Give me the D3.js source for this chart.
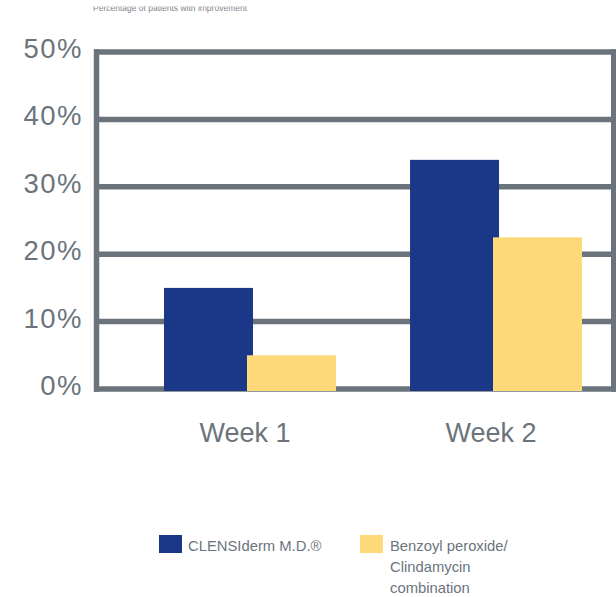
<!DOCTYPE html>
<html>
<head>
<meta charset="utf-8">
<script src="https://cdn.jsdelivr.net/npm/d3@7"></script>
<style>
  html, body { margin: 0; padding: 0; background: #fff; }
  svg { display: block; }
  text { font-family: "Liberation Sans", Arial, Helvetica, sans-serif; }
</style>
</head>
<body>
<svg id="chart" width="616" height="597"></svg>
<script>
// ---- data ----
const categories = ["Week 1", "Week 2"];
const seriesNames = ["CLENSIderm M.D.®", "Benzoyl peroxide/ Clindamycin combination"];
const clensiderm = [0.15, 0.34];
const bpoClinda = [0.05, 0.225];
const yTicks = [0, 0.1, 0.2, 0.3, 0.4, 0.5];
const tickLabels = ["0%", "10%", "20%", "30%", "40%", "50%"];
const subtitle = "Percentage of patients with improvement";
const legendLines = [["CLENSIderm M.D.®"], ["Benzoyl peroxide/", "Clindamycin", "combination"]];

// ---- styles ----
const gray = "#6b747d";
const colors = ["#1a3887", "#fdd97a"];

const svg = d3.select("#chart");

const y = d3.scaleLinear().domain([0, 0.5]).range([389, 52]);
const x0 = d3.scaleBand().domain(categories).range([164, 582]).paddingInner(0.301).paddingOuter(0);
const x1 = d3.scaleBand().domain([0, 1]).range([0, x0.bandwidth()]);

// subtitle (cut off at top in the source)
svg.append("defs").append("clipPath").attr("id", "subclip")
  .append("rect").attr("x", 0).attr("y", 6.5).attr("width", 616).attr("height", 10);
svg.append("text").attr("x", 93).attr("y", 11)
  .attr("clip-path", "url(#subclip)")
  .attr("font-size", 8.5).attr("fill", "#7f868d").text(subtitle);

// gridlines
svg.append("g").selectAll("line").data(yTicks).join("line")
  .attr("x1", 94).attr("x2", 616)
  .attr("y1", d => y(d)).attr("y2", d => y(d))
  .attr("stroke", gray).attr("stroke-width", 5.5);

// left axis line & right border
svg.append("line").attr("x1", 96.5).attr("x2", 96.5)
  .attr("y1", y(0.5) - 2.75).attr("y2", y(0) + 2.75)
  .attr("stroke", gray).attr("stroke-width", 5.5);
svg.append("line").attr("x1", 613.5).attr("x2", 613.5)
  .attr("y1", y(0.5) - 2.75).attr("y2", y(0) + 2.75)
  .attr("stroke", gray).attr("stroke-width", 5);

// tick labels
svg.append("g").selectAll("text").data(yTicks).join("text")
  .attr("x", 83).attr("y", d => y(d) + 6)
  .attr("text-anchor", "end").attr("font-size", 27.5).attr("letter-spacing", 1.5)
  .attr("fill", gray)
  .text((d, i) => tickLabels[i]);

// bars
const series = [clensiderm, bpoClinda];
series.forEach((vals, s) => {
  svg.append("g").selectAll("rect").data(categories).join("rect")
    .attr("x", (c) => x0(c) + x1(s) - (s === 1 ? 3 : 0))
    .attr("width", x1.bandwidth() + 3)
    .attr("y", (c, i) => y(vals[i]))
    .attr("height", (c, i) => y(0) + 2 - y(vals[i]))
    .attr("fill", colors[s]);
});

// category labels
svg.append("g").selectAll("text").data(categories).join("text")
  .attr("x", c => x0(c) + x0.bandwidth() / 2 - 5)
  .attr("y", 442)
  .attr("text-anchor", "middle").attr("font-size", 27).attr("fill", gray)
  .text(c => c);

// legend
const legendX = [159, 360];
const lg = svg.append("g");
legendLines.forEach((lines, i) => {
  lg.append("rect").attr("x", legendX[i]).attr("y", 535)
    .attr("width", 23).attr("height", 18).attr("fill", colors[i]);
  lines.forEach((t, j) => {
    lg.append("text").attr("x", legendX[i] + (i === 0 ? 29 : 30)).attr("y", 551 + j * 21)
      .attr("font-size", 14.8).attr("fill", gray).text(t);
  });
});
</script>
</body>
</html>
